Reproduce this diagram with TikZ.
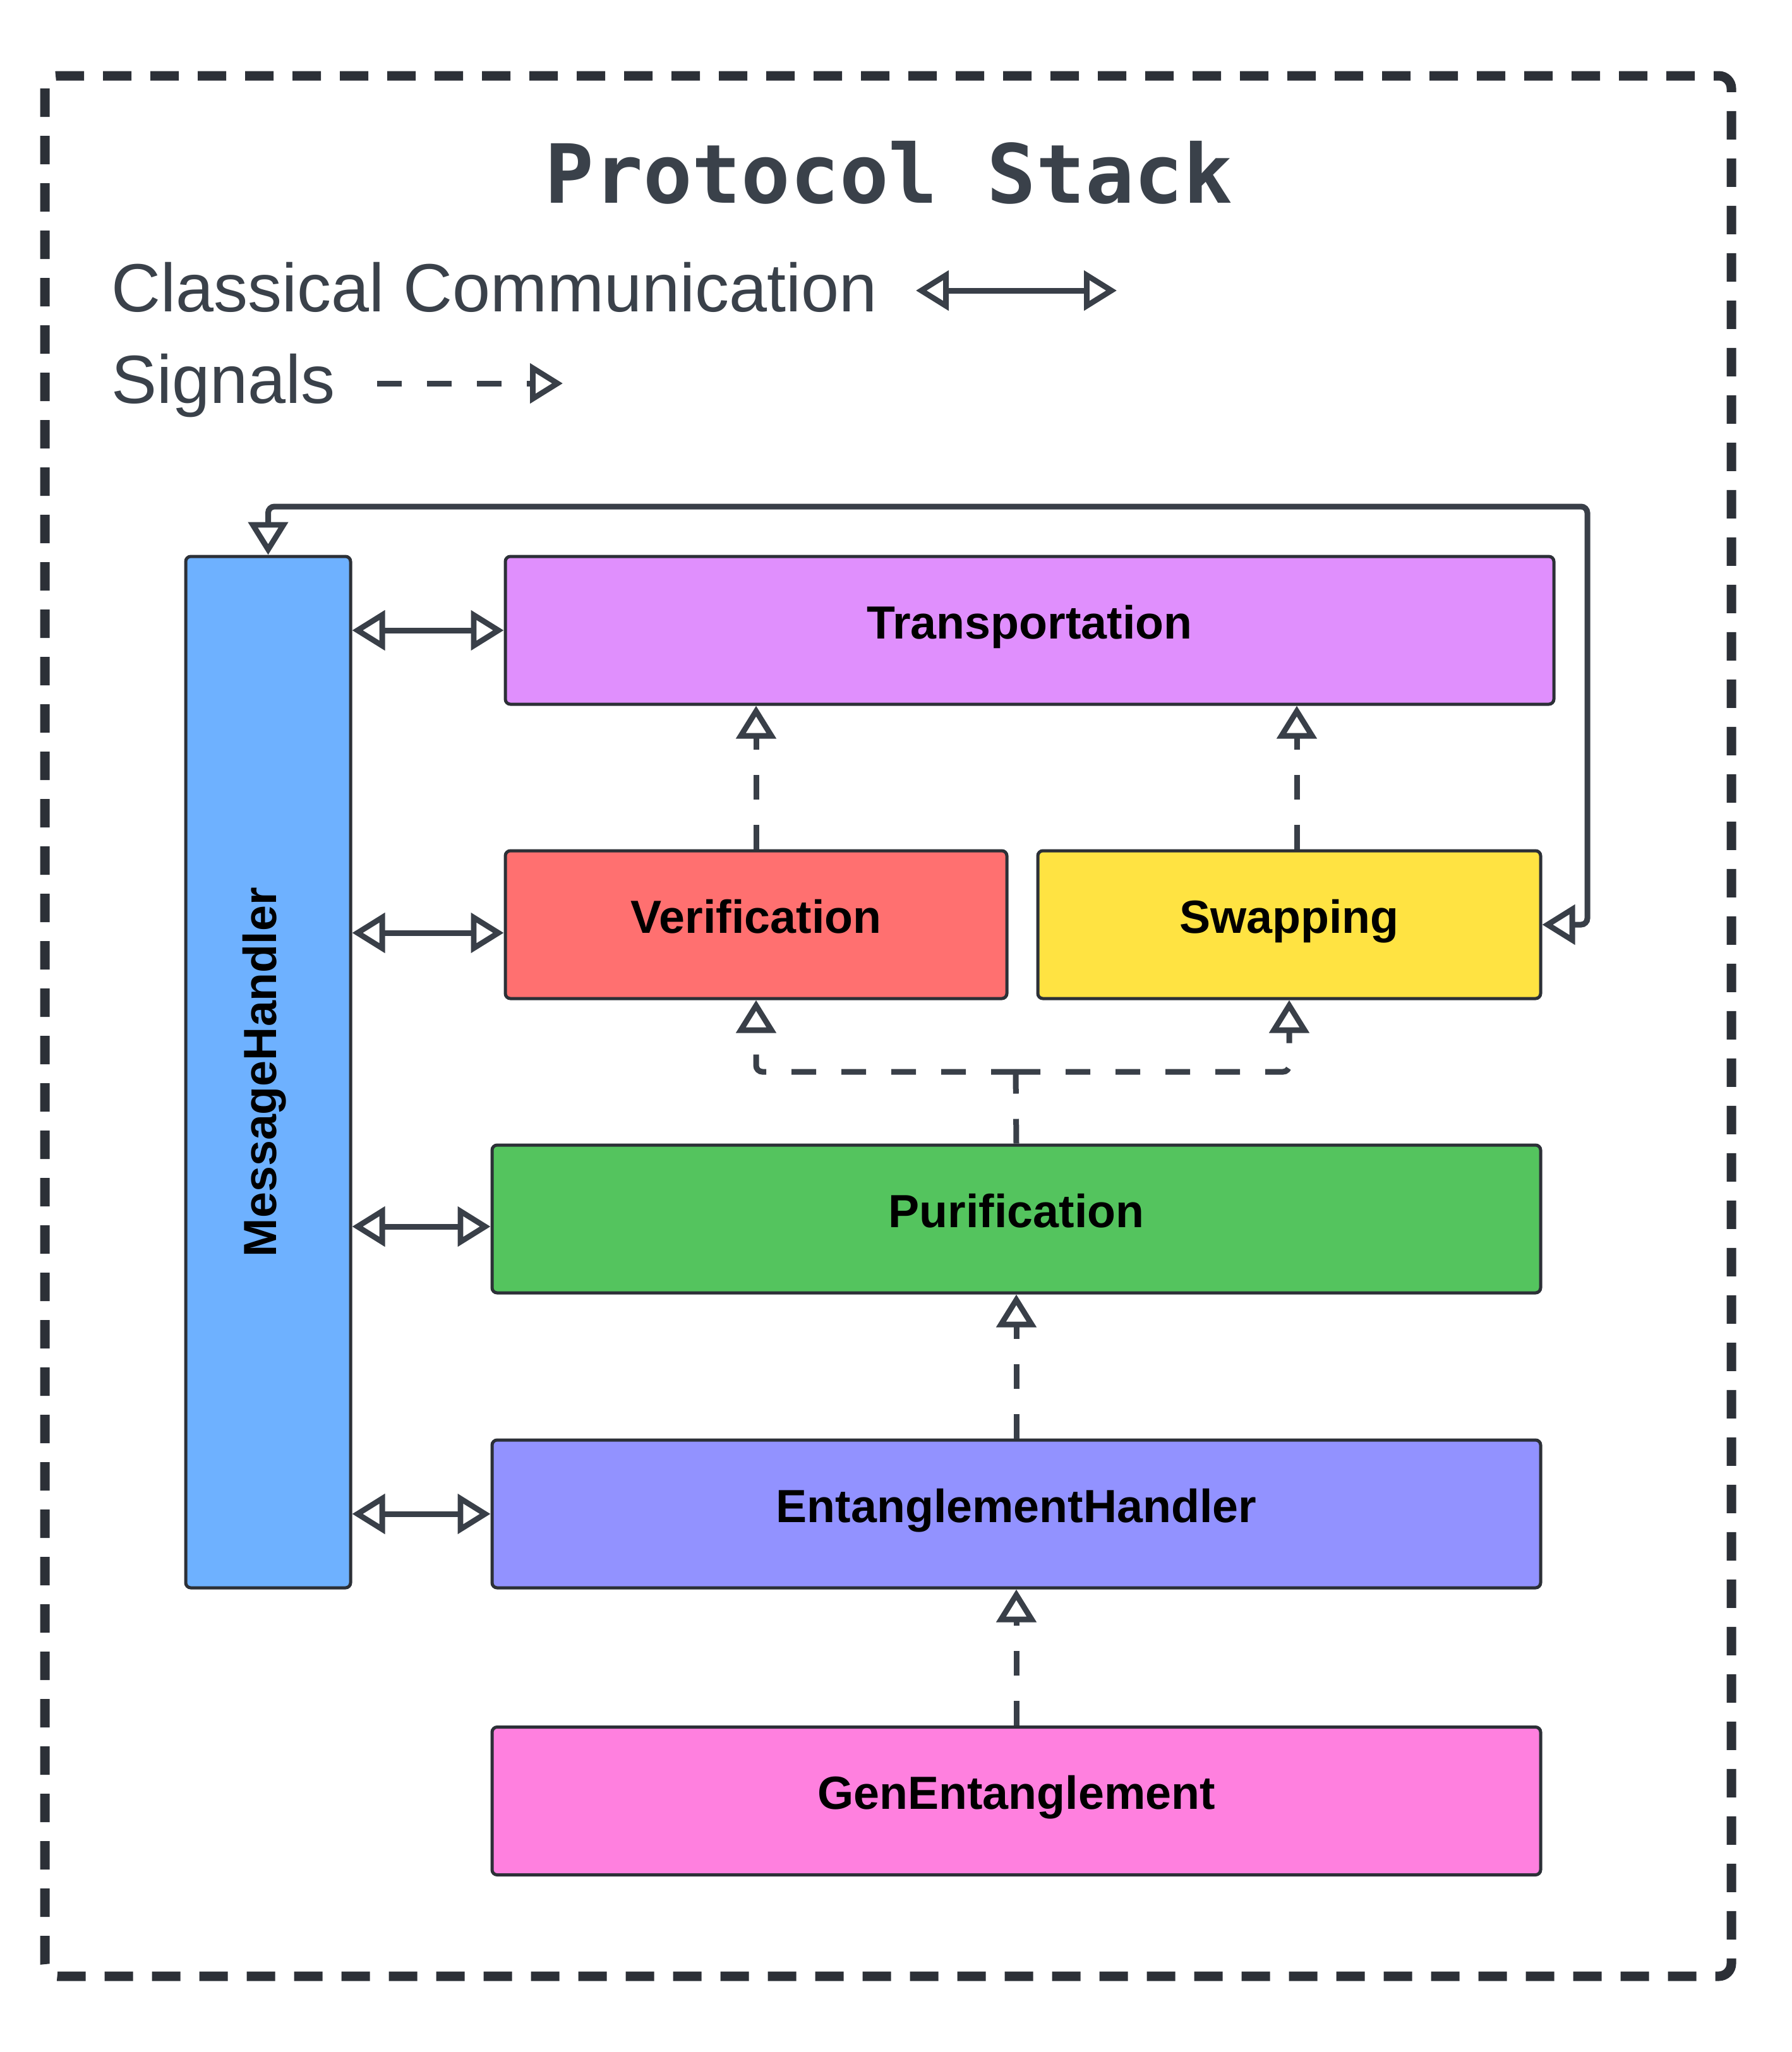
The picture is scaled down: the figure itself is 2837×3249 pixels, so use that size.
\documentclass[tikz,border=0pt]{standalone}
\usepackage{fontspec}
\setmainfont{Liberation Sans}
\newfontfamily\titlefont{DejaVu Sans Mono}
\usetikzlibrary{arrows.meta,calc}
\definecolor{linec}{HTML}{393F48}
\definecolor{borderc}{HTML}{2C3037}
\definecolor{textc}{HTML}{3A414A}
\definecolor{cT}{HTML}{E08FFD}
\definecolor{cV}{HTML}{FF7070}
\definecolor{cS}{HTML}{FFE342}
\definecolor{cP}{HTML}{54C45E}
\definecolor{cE}{HTML}{9292FF}
\definecolor{cG}{HTML}{FF80DF}
\definecolor{cM}{HTML}{6EB1FF}
\tikzset{otip/.tip={Triangle[open,length=13pt,width=15.5pt,line width=2.2pt]}}
\begin{document}
\begin{tikzpicture}[x=0.25pt,y=-0.25pt,
  box/.style={draw=borderc, line width=1.25pt, rounded corners=2pt, inner sep=0pt,
    font=\fontsize{18.4}{22}\selectfont\bfseries, text=black, text height=6.5pt, text depth=0pt},
  cc/.style={draw=linec, line width=2.25pt, otip-otip},
  sig/.style={draw=linec, line width=2.25pt, dash pattern=on 9.75pt off 10pt, -otip},
  legend/.style={text=textc, font=\fontsize{27}{32}\selectfont, anchor=base west, inner sep=0pt}
]
\useasboundingbox (0,0) rectangle (2837,3249);
% outer frame
\draw[draw=borderc, line width=3.75pt, dash pattern=on 11.25pt off 7.5pt, rounded corners=5pt]
  (71,120) rectangle (2741,3129);
% title and legend
\node[text=textc, font=\titlefont\fontsize{32.3}{40}\selectfont\bfseries, anchor=base, inner sep=0pt]
  (title) at (1407,321) {Protocol Stack};
\node[legend] (lcc) at (176,493) {Classical Communication};
\node[legend] (lsig) at (176,638) {Signals};
\coordinate (l1a) at (1450,460);
\coordinate (l1b) at (1768,460);
\coordinate (l2a) at (597,607);
\coordinate (l2b) at (891,607);
\draw[cc] (l1a) -- (l1b);
\draw[sig] (l2a) -- (l2b);
% boxes
\node[box, fill=cM, rotate=90, minimum width=408.25pt, minimum height=65.25pt] (M) at (424.5,1697.5) {MessageHandler};
\node[box, fill=cT, minimum width=415pt, minimum height=58.5pt] (T) at (1630,998) {Transportation};
\node[box, fill=cV, minimum width=198.5pt, minimum height=58.5pt] (V) at (1197,1464) {Verification};
\node[box, fill=cS, minimum width=199pt, minimum height=58.5pt] (S) at (2041,1464) {Swapping};
\node[box, fill=cP, minimum width=415pt, minimum height=58.5pt] (P) at (1609,1930) {Purification};
\node[box, fill=cE, minimum width=415pt, minimum height=58.5pt] (E) at (1609,2397) {EntanglementHandler};
\node[box, fill=cG, minimum width=415pt, minimum height=58.5pt] (G) at (1609,2851.5) {GenEntanglement};
% classical communication
\coordinate (vA) at ($(V.west)+(0,13)$);
\coordinate (pA) at ($(P.west)+(0,12)$);
\draw[cc] (M.south |- T.west) -- (T.west);
\draw[cc] (M.south |- vA) -- (vA);
\draw[cc] (M.south |- pA) -- (pA);
\draw[cc] (M.south |- E.west) -- (E.west);
\coordinate (loopR) at (2513,802);
\draw[cc, rounded corners=2.5pt] (S.east) -| (loopR) -| (M.east);
% signals
\coordinate (sA) at ($(S.north)+(12,0)$);
\draw[sig] (V.north) -- (V.north |- T.south);
\draw[sig] (sA) -- (sA |- T.south);
\coordinate (jn) at (1608,1697);
\draw[sig, -] (P.north) -- (jn);
\draw[sig, rounded corners=2.5pt] (jn) -| (V.south);
\draw[sig, rounded corners=2.5pt] (jn) -| (S.south);
\draw[sig] (E.north) -- (E.north |- P.south);
\draw[sig] (G.north) -- (G.north |- E.south);
\end{tikzpicture}
\end{document}
